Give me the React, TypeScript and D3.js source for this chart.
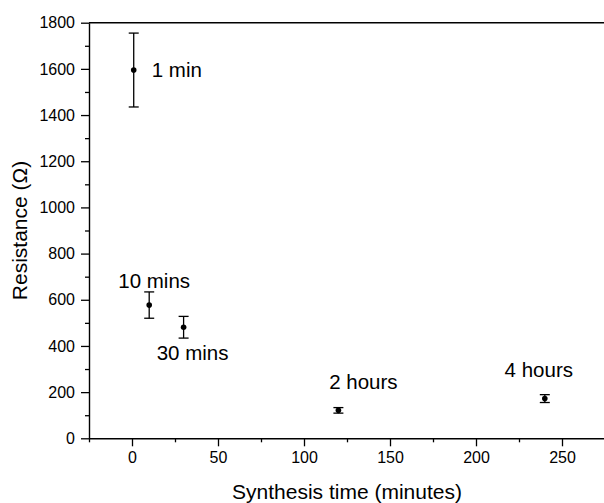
import React, { useEffect, useRef } from "react";
import * as d3 from "d3";

const times = [1, 10, 30, 120, 240];
const resistance = [1595, 577, 481, 121, 172];
const errors = [160, 57, 47, 12, 17];
const labels = ["1 min", "10 mins", "30 mins", "2 hours", "4 hours"];
const xTicks = [0, 50, 100, 150, 200, 250];
const xMinor = [-25, 25, 75, 125, 175, 225];
const yTicks = [0, 200, 400, 600, 800, 1000, 1200, 1400, 1600, 1800];
const yMinor = [100, 300, 500, 700, 900, 1100, 1300, 1500, 1700];

// label placement (pixel offsets from each point, text-anchor)
const labelStyle = [
  { dx: 18, dy: 7, anchor: "start" },
  { dx: 5, dy: -17, anchor: "middle" },
  { dx: 9, dy: 33, anchor: "middle" },
  { dx: 25, dy: -21, anchor: "middle" },
  { dx: -6, dy: -22, anchor: "middle" },
];

const W = 604;
const H = 503;
const FONT = "'Liberation Sans', Arial, Helvetica, sans-serif";

export default function App() {
  const gx = useRef<SVGGElement>(null);
  const gxm = useRef<SVGGElement>(null);
  const gy = useRef<SVGGElement>(null);
  const gym = useRef<SVGGElement>(null);

  const x = d3.scaleLinear().domain([-25, 275]).range([89, 605]);
  const y = d3.scaleLinear().domain([0, 1800]).range([438.3, 22.7]);

  useEffect(() => {
    const style = (sel: any) => {
      sel.selectAll("path").attr("stroke", "#000").attr("stroke-width", 1.4);
      sel.selectAll("line").attr("stroke", "#000").attr("stroke-width", 1.3);
      sel
        .selectAll("text")
        .attr("font-family", FONT)
        .attr("font-size", 16)
        .attr("fill", "#000");
    };
    const xa = d3
      .axisBottom(x)
      .tickValues(xTicks)
      .tickSize(8)
      .tickSizeOuter(0)
      .tickPadding(5)
      .tickFormat(d3.format("d"));
    const sx = d3.select(gx.current!).call(xa as any);
    style(sx);
    const xm = d3
      .axisBottom(x)
      .tickValues(xMinor)
      .tickSize(4)
      .tickSizeOuter(0)
      .tickFormat(() => "");
    const sxm = d3.select(gxm.current!).call(xm as any);
    style(sxm);
    sxm.select("path").remove();

    const ya = d3
      .axisLeft(y)
      .tickValues(yTicks)
      .tickSize(8)
      .tickSizeOuter(0)
      .tickPadding(6)
      .tickFormat(d3.format("d"));
    const sy = d3.select(gy.current!).call(ya as any);
    style(sy);
    const ym = d3
      .axisLeft(y)
      .tickValues(yMinor)
      .tickSize(4)
      .tickSizeOuter(0)
      .tickFormat(() => "");
    const sym = d3.select(gym.current!).call(ym as any);
    style(sym);
    sym.select("path").remove();
  }, []);

  const capW = 5;

  return (
    <svg
      width={W}
      height={H}
      style={{ position: "fixed", left: 0, top: 0, background: "#fff" }}
      fontFamily={FONT}
    >
      <rect width={W} height={H} fill="#fff" />
      {/* top frame line */}
      <line
        x1={x(-25)}
        x2={x(275)}
        y1={y(1800)}
        y2={y(1800)}
        stroke="#000"
        strokeWidth={1.4}
      />
      <g ref={gx} transform={`translate(0,${y(0)})`} />
      <g ref={gxm} transform={`translate(0,${y(0)})`} />
      <g ref={gy} transform={`translate(${x(-25)},0)`} />
      <g ref={gym} transform={`translate(${x(-25)},0)`} />

      {times.map((t, i) => {
        const cx = x(t);
        const cy = y(resistance[i]);
        const top = y(resistance[i] + errors[i]);
        const bot = y(resistance[i] - errors[i]);
        const ls = labelStyle[i];
        return (
          <g key={i}>
            <line x1={cx} x2={cx} y1={top} y2={bot} stroke="#000" strokeWidth={1.3} />
            <line x1={cx - capW} x2={cx + capW} y1={top} y2={top} stroke="#000" strokeWidth={1.3} />
            <line x1={cx - capW} x2={cx + capW} y1={bot} y2={bot} stroke="#000" strokeWidth={1.3} />
            <circle cx={cx} cy={cy} r={2.8} fill="#000" />
            <text
              x={cx + ls.dx}
              y={cy + ls.dy}
              textAnchor={ls.anchor as any}
              fontSize={20.5}
              fill="#000"
            >
              {labels[i]}
            </text>
          </g>
        );
      })}

      <text
        x={(x(-25) + x(275)) / 2}
        y={499}
        textAnchor="middle"
        fontSize={21}
        fill="#000"
      >
        Synthesis time (minutes)
      </text>
      <text
        transform={`translate(27,${(y(0) + y(1800)) / 2}) rotate(-90)`}
        textAnchor="middle"
        fontSize={21}
        fill="#000"
      >
        Resistance (Ω)
      </text>
    </svg>
  );
}
